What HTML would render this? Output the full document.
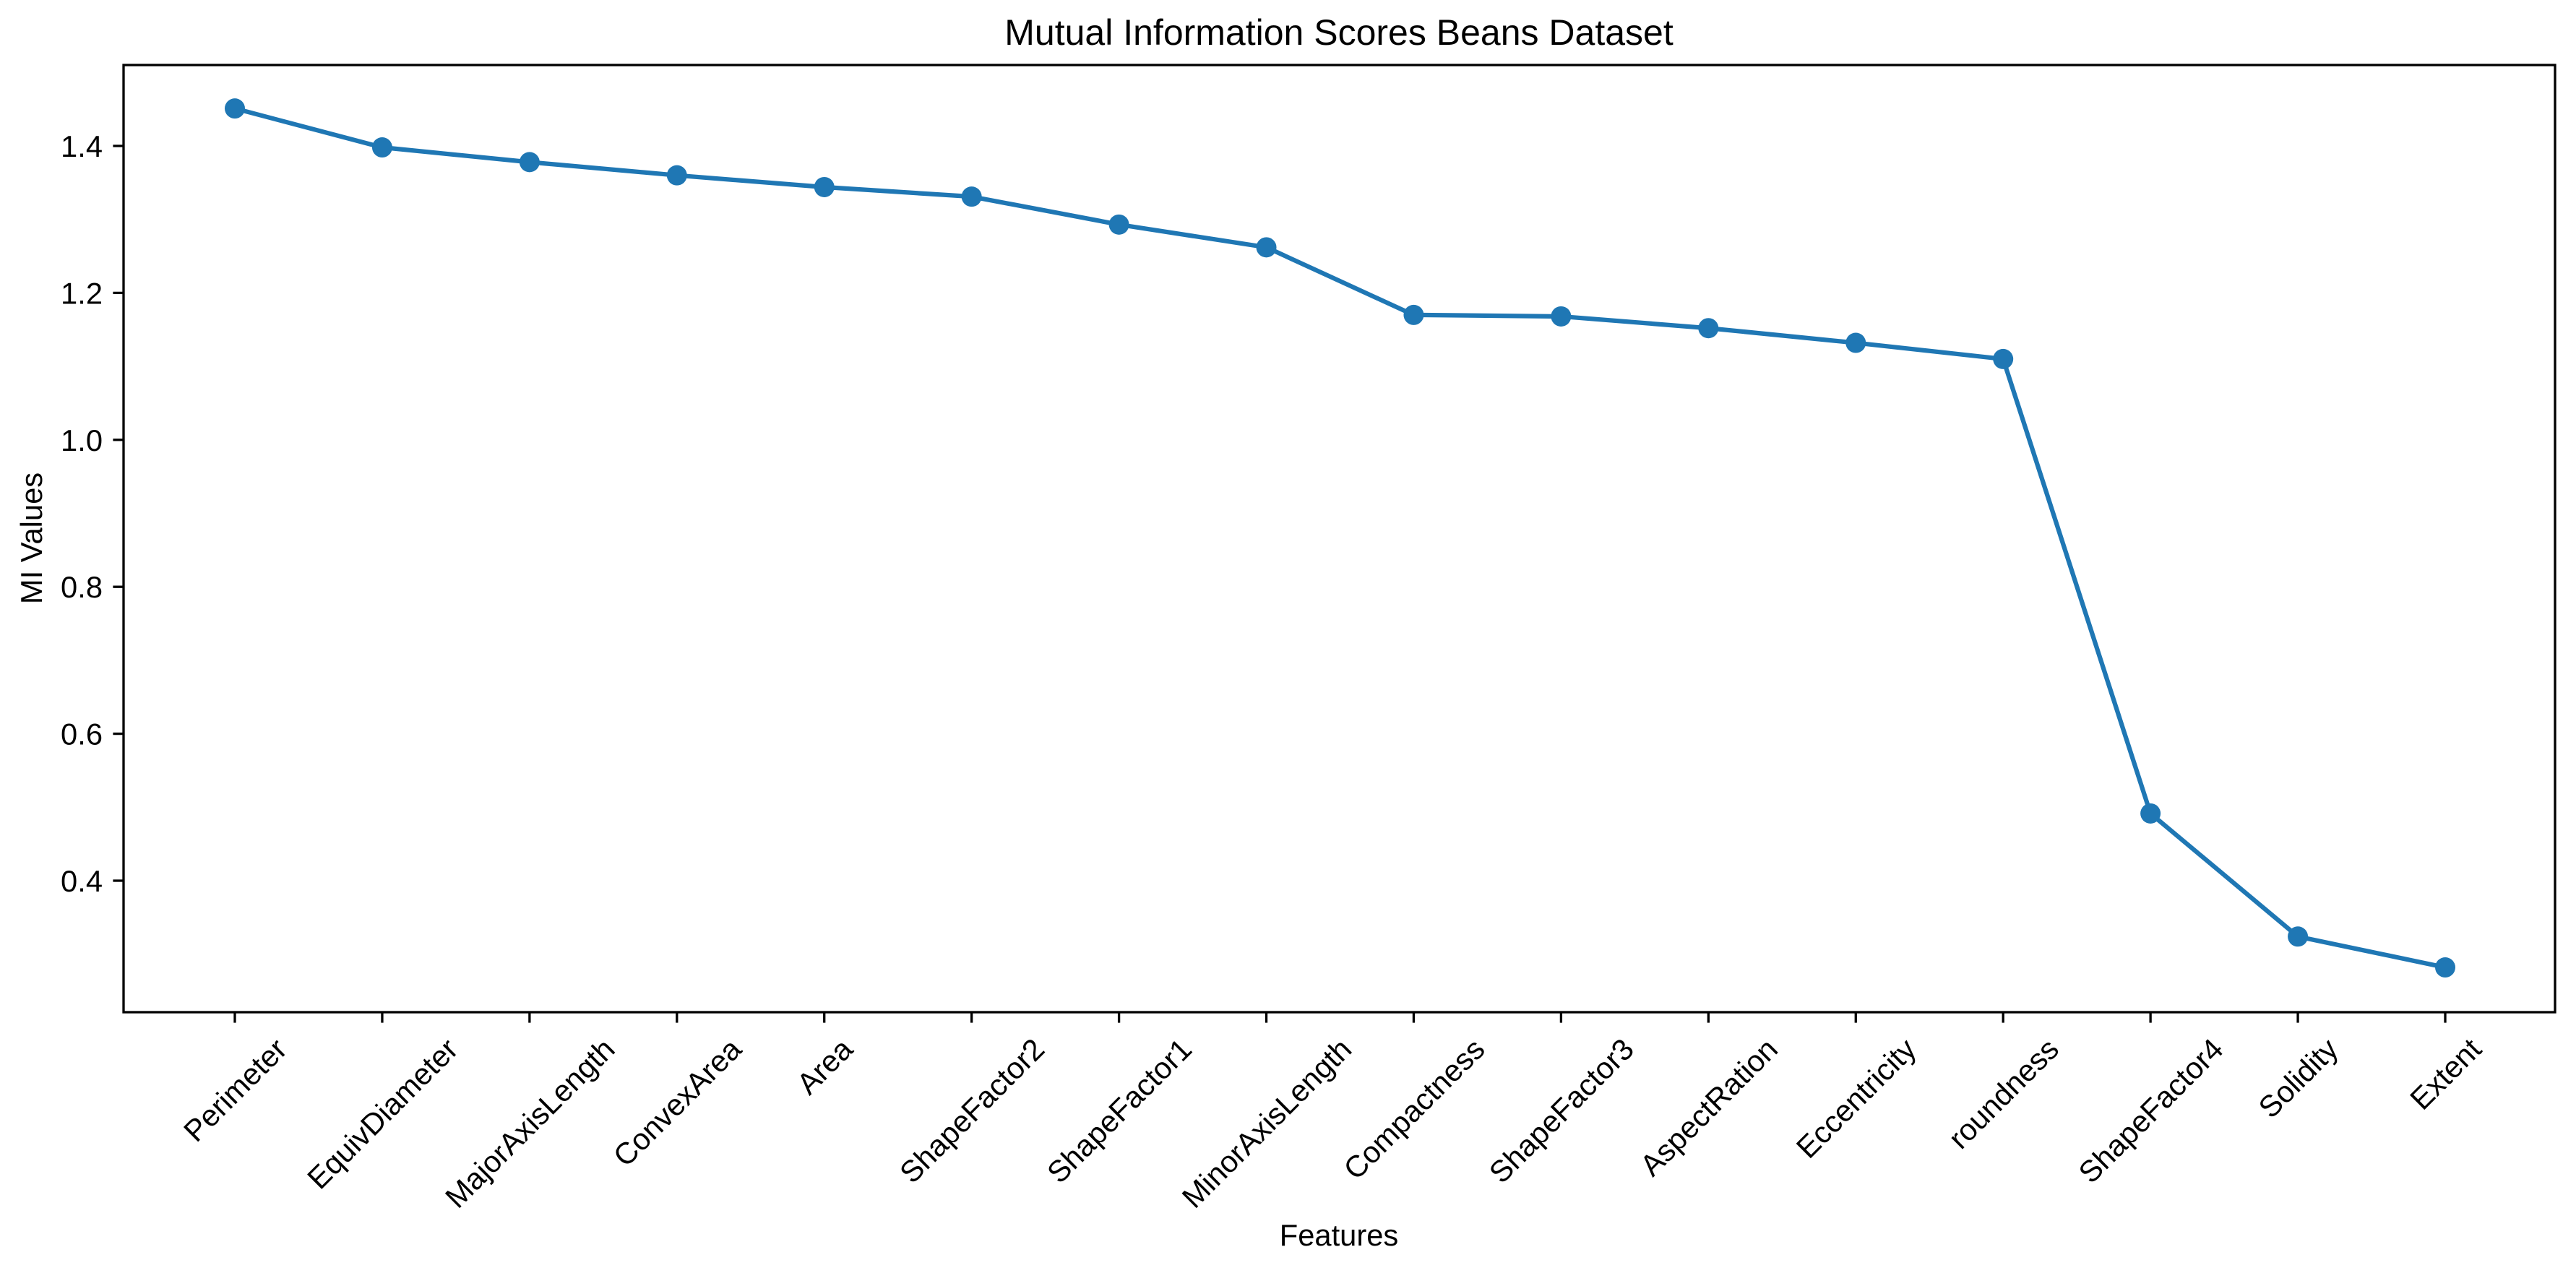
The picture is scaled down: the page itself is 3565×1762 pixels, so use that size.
<!DOCTYPE html>
<html><head><meta charset="utf-8"><style>
html,body{margin:0;padding:0;background:#fff;}
svg{display:block;font-family:"Liberation Sans",Arial,sans-serif;}
</style></head><body>
<svg id="chart" width="3565" height="1762" viewBox="0 0 3565 1762" xmlns="http://www.w3.org/2000/svg">
<rect width="3565" height="1762" fill="#fff"/>
<text x="1853" y="62" font-size="50" text-anchor="middle">Mutual Information Scores Beans Dataset</text>
<text transform="translate(58,745) rotate(-90)" font-size="41.7" text-anchor="middle">MI Values</text>
<text x="1853" y="1724" font-size="41.7" text-anchor="middle">Features</text>
<g id="yticks"></g>
<g id="xticks"></g>
<g id="series"></g>
<rect x="171" y="90" width="3365" height="1311" fill="none" stroke="#000" stroke-width="3.3"/>
</svg>
<script>
const categories = ["Perimeter","EquivDiameter","MajorAxisLength","ConvexArea","Area","ShapeFactor2","ShapeFactor1","MinorAxisLength","Compactness","ShapeFactor3","AspectRation","Eccentricity","roundness","ShapeFactor4","Solidity","Extent"];
const miValues = [1.451,1.398,1.378,1.360,1.344,1.331,1.293,1.262,1.170,1.168,1.152,1.132,1.110,0.4915,0.324,0.282];
const yTicks = [0.4,0.6,0.8,1.0,1.2,1.4];
const yTickLabels = ["0.4","0.6","0.8","1.0","1.2","1.4"];

const NS="http://www.w3.org/2000/svg";
const L=171,R=3536,T=90,B=1401;
const step=(3384-325)/15;
function xScale(i){return 325+i*step;}
function yScale(v){return 1219-(v-0.4)*1017;}
function mk(tag,attrs,parent){const e=document.createElementNS(NS,tag);for(const k in attrs)e.setAttribute(k,attrs[k]);parent.appendChild(e);return e;}

const yg=document.getElementById('yticks');
yTicks.forEach((v,i)=>{
  const y=yScale(v);
  const t=mk('line',{x1:L-14.6,x2:L,y1:y,y2:y,stroke:'#000','stroke-width':3.3},yg);
  
  
  const tx=mk('text',{x:L-29,y:y+15,'font-size':41.7,'text-anchor':'end'},yg);
  
  
  tx.textContent=yTickLabels[i];
});

const xg=document.getElementById('xticks');
categories.forEach((c,i)=>{
  const x=xScale(i);
  const t=mk('line',{x1:x,x2:x,y1:B,y2:B+14.6,stroke:'#000','stroke-width':3.3},xg);
  
  
  const tx=mk('text',{'font-size':41.7,'text-anchor':'middle'},xg);
  
  
  tx.textContent=c;
  const w=tx.getComputedTextLength();
  const h=(w+40)*Math.SQRT1_2;
  const cy=B+14.6+14.6+h/2;
  tx.setAttribute('transform','translate('+x+','+cy+') rotate(-45)');
  tx.setAttribute('y',15);
});

const sg=document.getElementById('series');
const pts=miValues.map((v,i)=>xScale(i)+','+yScale(v)).join(' ');
const pl=mk('polyline',{points:pts,fill:'none',stroke:'#1f77b4','stroke-width':6.25,'stroke-linejoin':'round'},sg);


miValues.forEach((v,i)=>{
  const c=mk('circle',{cx:xScale(i),cy:yScale(v),r:14,fill:'#1f77b4'},sg);
  
  
});
</script>
</body></html>
